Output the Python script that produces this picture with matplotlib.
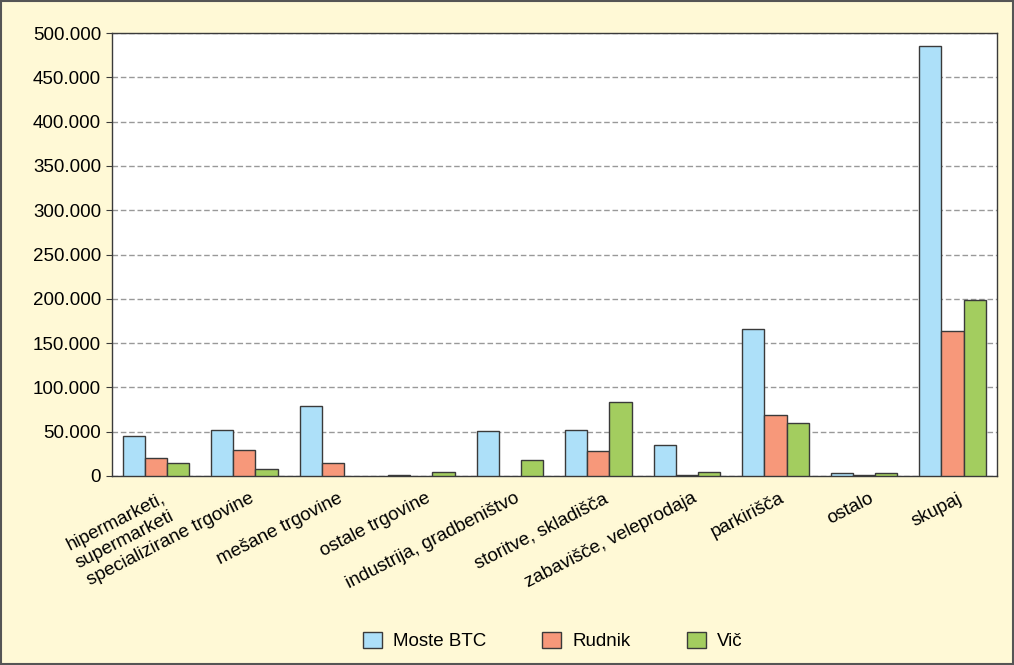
import numpy as np
import matplotlib
matplotlib.use("Agg")
import matplotlib.pyplot as plt
from matplotlib.ticker import FuncFormatter
from matplotlib.patches import Rectangle

plt.rcParams['font.family'] = ['Liberation Sans', 'DejaVu Sans']

categories = ["hipermarketi,\nsupermarketi", "specializirane trgovine", "mešane trgovine",
              "ostale trgovine", "industrija, gradbeništvo", "storitve, skladišča",
              "zabavišče, veleprodaja", "parkirišča", "ostalo", "skupaj"]
series_names = ["Moste BTC", "Rudnik", "Vič"]
moste = [45000, 52000, 79000, 1000, 51000, 52000, 35000, 166000, 3000, 485000]
rudnik = [20500, 29500, 15000, 0, 0, 28500, 1000, 68500, 1000, 164000]
vic = [15000, 8000, 0, 5000, 18000, 84000, 5000, 60000, 3000, 199000]

colors = ["#ADE0F9", "#F7987A", "#A3CD5F"]
edge = "#3a3a3a"
bg = "#FFF9D6"

fig = plt.figure(figsize=(10.14, 6.65), dpi=100, facecolor=bg)
ax = fig.add_axes([0.110, 1 - 476 / 665, 0.873, (476 - 33) / 665])
ax.set_facecolor("white")

x = np.arange(len(categories))
w = 0.25
for i, (vals, name) in enumerate(zip([moste, rudnik, vic], series_names)):
    vals = np.array(vals)
    # zero values are not drawn in the original
    lw = np.where(vals > 0, 1.0, 0.0)
    ax.bar(x + (i - 1) * w, vals, w, color=colors[i], edgecolor=edge,
           linewidth=lw, label=name, zorder=3)

ax.set_xlim(-0.5, len(categories) - 0.5)
ax.set_ylim(0, 500000)
ax.set_yticks(np.arange(0, 500001, 50000))
ax.yaxis.set_major_formatter(FuncFormatter(lambda v, p: "0" if v == 0 else f"{int(v):,}".replace(",", ".")))
ax.yaxis.grid(True, color="#999999", linestyle=(0, (4, 2)), linewidth=1.0, zorder=0)
ax.set_xticks(x + 0.05)
ax.set_xticklabels(categories, rotation=27, ha="right", rotation_mode="anchor",
                   fontsize=13.5, multialignment="center")
ax.tick_params(axis="y", labelsize=13.5, length=4, color=edge)
ax.tick_params(axis="x", length=0, pad=10)
for s in ax.spines.values():
    s.set_color(edge)
    s.set_linewidth(1.0)

leg = fig.legend(loc="center", bbox_to_anchor=(0.545, 1 - 641 / 665), ncol=3, frameon=False,
                 fontsize=13.5, handlelength=1.0, handleheight=1.0, columnspacing=3.0,
                 handletextpad=0.6)

fig.add_artist(Rectangle((0.001, 0.001), 0.998, 0.997, transform=fig.transFigure,
                         fill=False, edgecolor="#555555", linewidth=1.5))

fig.savefig("out.png", dpi=100, facecolor=bg)
